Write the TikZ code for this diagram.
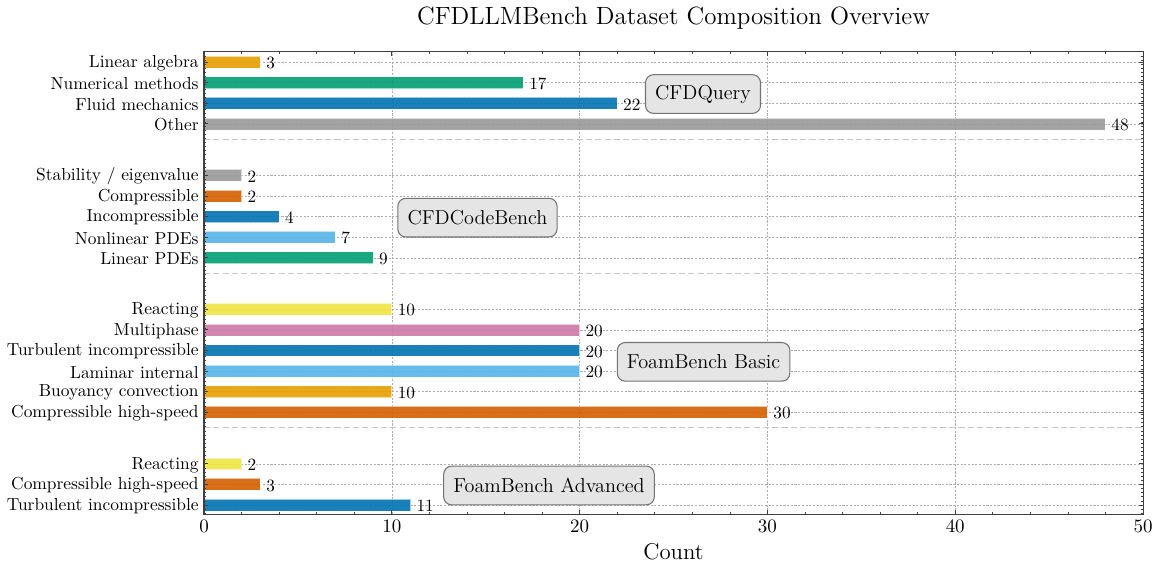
\documentclass[tikz,border=0pt]{standalone}
\definecolor{corange}{HTML}{E69F00}
\definecolor{cgreen}{HTML}{009E73}
\definecolor{cblue}{HTML}{0072B2}
\definecolor{cgray}{HTML}{999999}
\definecolor{csky}{HTML}{56B4E9}
\definecolor{cverm}{HTML}{D55E00}
\definecolor{cyellow}{HTML}{F0E442}
\definecolor{cpink}{HTML}{CC79A7}
\begin{document}
\begin{tikzpicture}
		[	x=0.3756cm, y=0.412cm,
		bar/.style={draw=white, draw opacity=0.6, line width=0.4pt, fill opacity=0.9},
		lab/.style={anchor=east, inner sep=0pt, font=\fontsize{9.9}{11}\selectfont},
		val/.style={anchor=west, inner sep=0pt, font=\fontsize{9.8}{11}\selectfont},
		tick/.style={anchor=north, inner sep=0pt, font=\fontsize{10.8}{12}\selectfont},
		grp/.style={draw=black!55, fill=black!10, rounded corners=4.5pt, line width=0.6pt,
			minimum height=22pt, inner xsep=5.5pt, font=\fontsize{11.5}{13}\selectfont},
		gridline/.style={black!32, line width=0.35pt, dash pattern=on 1.2pt off 0.9pt},
		sepline/.style={black!22, line width=0.8pt, dash pattern=on 3.5pt off 1.8pt}
		]
		\useasboundingbox (-10.862,-2.816) rectangle (50.69,24.515);

		% grid
		\foreach \gx in {10,20,30,40}
			\draw[gridline] (\gx,-0.44) -- (\gx,22);
		\foreach \gy in {0,1,2,4.5,5.5,6.5,7.5,8.5,9.5,12,13,14,15,16,18.5,19.5,20.5,21.5}
			\draw[gridline] (0,\gy) -- (50,\gy);
		\draw[sepline] (0,17.75) -- (50,17.75);
		\draw[sepline] (0,11.25) -- (50,11.25);
		\draw[sepline] (0,3.75) -- (50,3.75);

		% CFDQuery
		\draw[bar,fill=corange] (0,21.21) rectangle (3,21.79);
		\draw[bar,fill=cgreen] (0,20.21) rectangle (17,20.79);
		\draw[bar,fill=cblue] (0,19.21) rectangle (22,19.79);
		\draw[bar,fill=cgray] (0,18.21) rectangle (48,18.79);
		\node[lab] (q1) at (-0.27,21.45){Linear algebra};
		\node[lab] (q2) at (-0.27,20.45){Numerical methods};
		\node[lab] (q3) at (-0.27,19.45){Fluid mechanics};
		\node[lab] (q4) at (-0.27,18.45){Other};
		\node[val] (qv1) at (3.3,21.45){3};
		\node[val] (qv2) at (17.3,20.45){17};
		\node[val] (qv3) at (22.3,19.45){22};
		\node[val] (qv4) at (48.3,18.45){48};

		% CFDCodeBench
		\draw[bar,fill=cgray] (0,15.71) rectangle (2,16.29);
		\draw[bar,fill=cverm] (0,14.71) rectangle (2,15.29);
		\draw[bar,fill=cblue] (0,13.71) rectangle (4,14.29);
		\draw[bar,fill=csky] (0,12.71) rectangle (7,13.29);
		\draw[bar,fill=cgreen] (0,11.71) rectangle (9,12.29);
		\node[lab] (c1) at (-0.27,15.95){Stability / eigenvalue};
		\node[lab] (c2) at (-0.27,14.95){Compressible};
		\node[lab] (c3) at (-0.27,13.95){Incompressible};
		\node[lab] (c4) at (-0.27,12.95){Nonlinear PDEs};
		\node[lab] (c5) at (-0.27,11.95){Linear PDEs};
		\node[val] (cv1) at (2.3,15.95){2};
		\node[val] (cv2) at (2.3,14.95){2};
		\node[val] (cv3) at (4.3,13.95){4};
		\node[val] (cv4) at (7.3,12.95){7};
		\node[val] (cv5) at (9.3,11.95){9};

		% FoamBench Basic
		\draw[bar,fill=cyellow] (0,9.21) rectangle (10,9.79);
		\draw[bar,fill=cpink] (0,8.21) rectangle (20,8.79);
		\draw[bar,fill=cblue] (0,7.21) rectangle (20,7.79);
		\draw[bar,fill=csky] (0,6.21) rectangle (20,6.79);
		\draw[bar,fill=corange] (0,5.21) rectangle (10,5.79);
		\draw[bar,fill=cverm] (0,4.21) rectangle (30,4.79);
		\node[lab] (b1) at (-0.27,9.45){Reacting};
		\node[lab] (b2) at (-0.27,8.45){Multiphase};
		\node[lab] (b3) at (-0.27,7.45){Turbulent incompressible};
		\node[lab] (b4) at (-0.27,6.45){Laminar internal};
		\node[lab] (b5) at (-0.27,5.45){Buoyancy convection};
		\node[lab] (b6) at (-0.27,4.45){Compressible high-speed};
		\node[val] (bv1) at (10.3,9.45){10};
		\node[val] (bv2) at (20.3,8.45){20};
		\node[val] (bv3) at (20.3,7.45){20};
		\node[val] (bv4) at (20.3,6.45){20};
		\node[val] (bv5) at (10.3,5.45){10};
		\node[val] (bv6) at (30.3,4.45){30};

		% FoamBench Advanced
		\draw[bar,fill=cyellow] (0,1.71) rectangle (2,2.29);
		\draw[bar,fill=cverm] (0,0.71) rectangle (3,1.29);
		\draw[bar,fill=cblue] (0,-0.29) rectangle (11,0.29);
		\node[lab] (a1) at (-0.27,1.95){Reacting};
		\node[lab] (a2) at (-0.27,0.95){Compressible high-speed};
		\node[lab] (a3) at (-0.27,-0.05){Turbulent incompressible};
		\node[val] (av1) at (2.3,1.95){2};
		\node[val] (av2) at (3.3,0.95){3};
		\node[val] (av3) at (11.3,-0.05){11};

		% frame and ticks
		\draw[black!75, line width=0.6pt] (0,-0.44) rectangle (50,22);
		\foreach \tx in {0,10,...,50}{
			\draw[black!75, line width=0.5pt] (\tx,-0.44) -- ++(0,0.194);
			\draw[black!75, line width=0.5pt] (\tx,22) -- ++(0,-0.194);
			\node[tick] (x\tx) at (\tx,-0.7){\tx};
		}
		\foreach \tx in {2,4,...,48}{
			\draw[black!75, line width=0.4pt] (\tx,-0.44) -- ++(0,0.097);
			\draw[black!75, line width=0.4pt] (\tx,22) -- ++(0,-0.097);
		}
		\foreach \ty in {0,1,2,4.5,5.5,6.5,7.5,8.5,9.5,12,13,14,15,16,18.5,19.5,20.5,21.5}{
			\draw[black!75, line width=0.5pt] (0,\ty) -- ++(0.213,0);
			\draw[black!75, line width=0.5pt] (50,\ty) -- ++(-0.213,0);
		}
		\foreach \ty in {-0.4,-0.2,...,21.9}{
			\draw[black!75, line width=0.4pt] (0,\ty) -- ++(0.107,0);
			\draw[black!75, line width=0.4pt] (50,\ty) -- ++(-0.107,0);
		}

		% group boxes
		\node[grp] (query) at (26.57,19.95){CFDQuery};
		\node[grp] (codebench) at (14.56,13.95){CFDCodeBench};
		\node[grp] (basic) at (26.6,6.95){FoamBench Basic};
		\node[grp] (advanced) at (18.37,0.95){FoamBench Advanced};

		\node[font=\fontsize{13}{15}\selectfont] (xlabel) at (25,-2.25){Count};
		\node[font=\fontsize{14.2}{16}\selectfont] (title) at (25,23.65){CFDLLMBench Dataset Composition Overview};
	\end{tikzpicture}
\end{document}
